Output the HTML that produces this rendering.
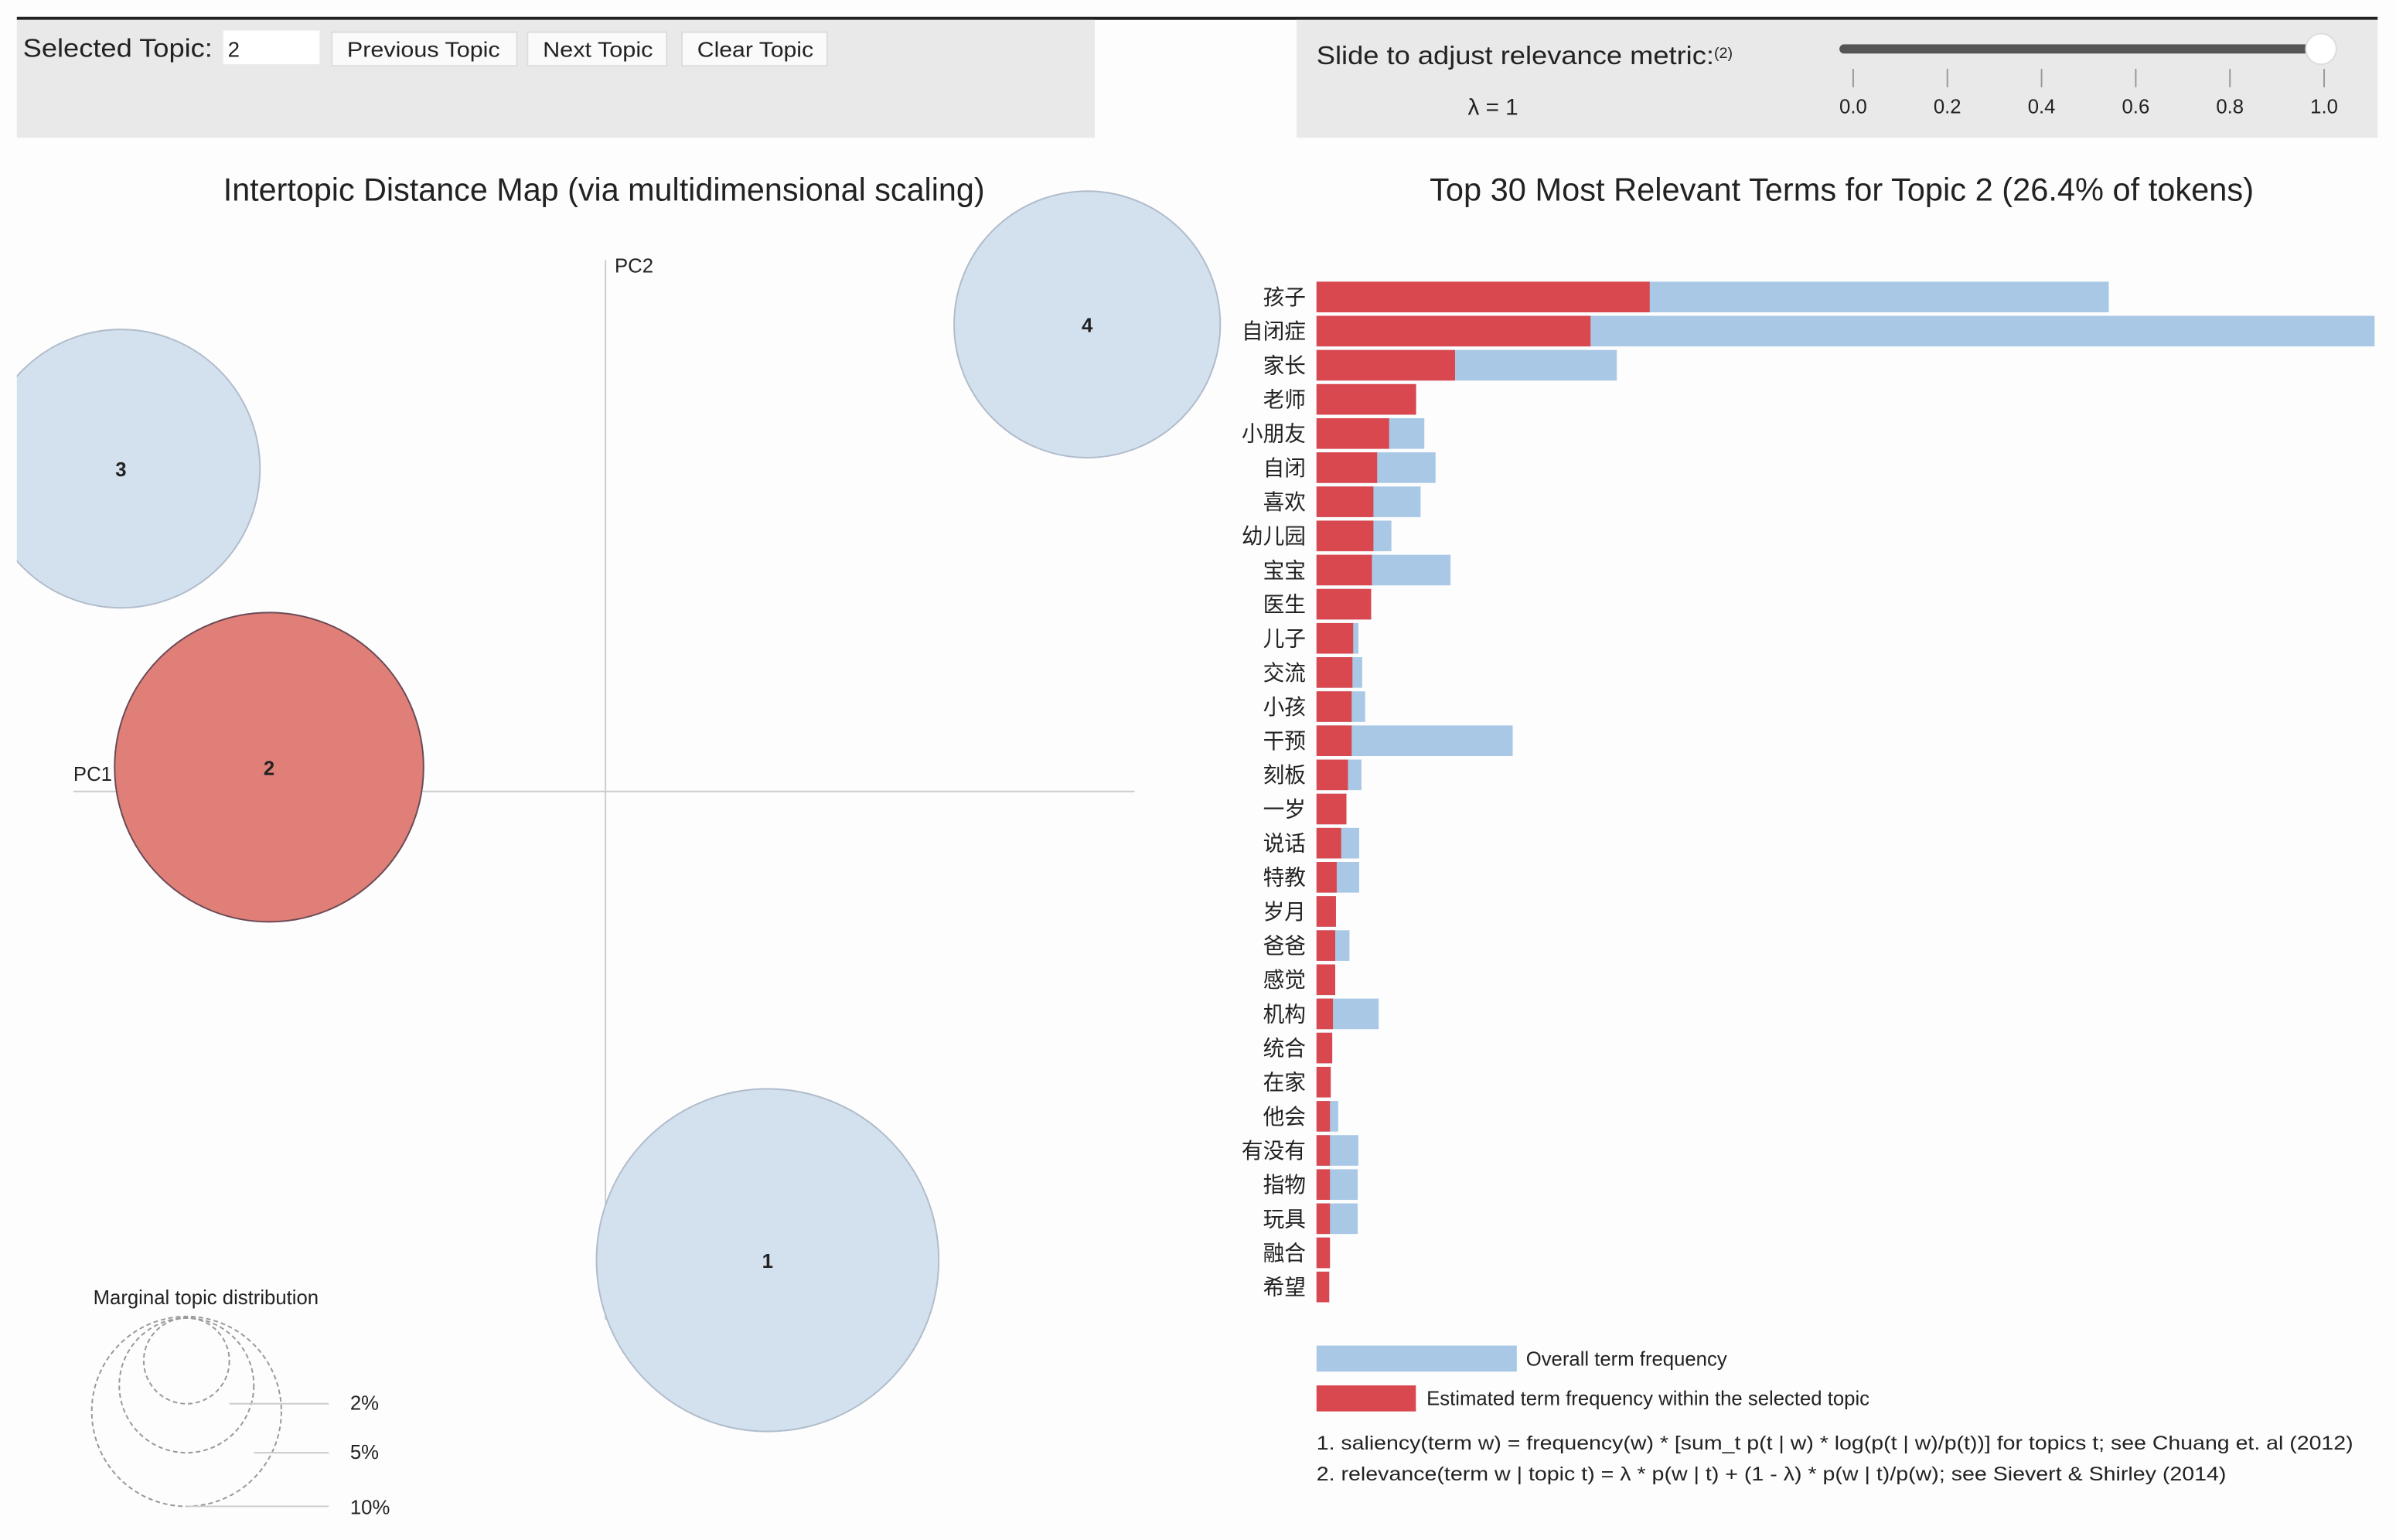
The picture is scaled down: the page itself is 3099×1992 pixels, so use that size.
<!DOCTYPE html>
<html><head><meta charset="utf-8"><style>
html,body{margin:0;padding:0;background:#fff}
svg{display:block}
text{font-family:"Liberation Sans","Noto Sans CJK SC",sans-serif;fill:#222}
</style></head><body>
<svg id="chart" width="3099" height="1992" viewBox="0 0 1567 1006" preserveAspectRatio="none" xmlns="http://www.w3.org/2000/svg">
<rect x="0" y="0" width="1567" height="1006" fill="#fdfdfd"/>
<line x1="11" y1="12" x2="1555" y2="12" stroke="#222" stroke-width="2"/>
<rect x="11" y="13" width="705" height="77" fill="#e9e9e9"/>
<rect x="848" y="13" width="707" height="77" fill="#e9e9e9"/>
<text x="15" y="37" font-size="17" textLength="124" lengthAdjust="spacingAndGlyphs">Selected Topic:</text>
<rect x="146" y="20" width="63" height="22" fill="#fff"/>
<text x="149" y="37" font-size="14">2</text>
<rect x="217" y="21" width="121" height="22" fill="#fafafa" stroke="#ddd"/>
<text x="227" y="37" font-size="14" textLength="100" lengthAdjust="spacingAndGlyphs" fill="#444">Previous Topic</text>
<rect x="345" y="21" width="91" height="22" fill="#fafafa" stroke="#ddd"/>
<text x="355" y="37" font-size="14" textLength="72" lengthAdjust="spacingAndGlyphs" fill="#444">Next Topic</text>
<rect x="446" y="21" width="95" height="22" fill="#fafafa" stroke="#ddd"/>
<text x="456" y="37" font-size="14" textLength="76" lengthAdjust="spacingAndGlyphs" fill="#444">Clear Topic</text>
<text x="861" y="42" font-size="17"><tspan textLength="260" lengthAdjust="spacingAndGlyphs">Slide to adjust relevance metric:</tspan><tspan font-size="10" dy="-4">(2)</tspan></text>
<text x="960" y="75" font-size="15">λ = 1</text>
<rect x="1203" y="29" width="315" height="6" rx="3" fill="#555"/>
<circle cx="1518" cy="32" r="10" fill="#fff" stroke="#ddd"/>
<g id="sliderTicks"></g>

<text x="146" y="131" font-size="21" textLength="498" lengthAdjust="spacingAndGlyphs">Intertopic Distance Map (via multidimensional scaling)</text>
<text x="935" y="131" font-size="21" textLength="539" lengthAdjust="spacingAndGlyphs">Top 30 Most Relevant Terms for Topic 2 (26.4% of tokens)</text>

<line x1="396" y1="170" x2="396" y2="862" stroke="#ccc"/>
<line x1="48" y1="517" x2="742" y2="517" stroke="#ccc"/>
<text x="402" y="178" font-size="13" fill="#888">PC2</text>
<text x="48" y="510" font-size="13" fill="#888">PC1</text>
<defs><clipPath id="mapclip"><rect x="11" y="95" width="820" height="900"/></clipPath></defs>
<g id="topics" clip-path="url(#mapclip)"></g>

<text x="61" y="852" font-size="13">Marginal topic distribution</text>
<g fill="none" stroke="#999" stroke-dasharray="3,2">
<circle cx="122" cy="922" r="62"/>
<circle cx="122" cy="905" r="44"/>
<circle cx="122" cy="889" r="28"/>
</g>
<line x1="150" y1="917" x2="215" y2="917" stroke="#ccc"/>
<line x1="166" y1="949" x2="215" y2="949" stroke="#ccc"/>
<line x1="122" y1="984" x2="215" y2="984" stroke="#ccc"/>
<text x="229" y="921" font-size="13">2%</text>
<text x="229" y="953" font-size="13">5%</text>
<text x="229" y="989" font-size="13">10%</text>

<g id="bars"></g>

<rect x="861" y="879" width="131" height="17" fill="#a9c8e6"/>
<text x="998" y="892" font-size="13">Overall term frequency</text>
<rect x="861" y="905" width="65" height="17" fill="#d9474f"/>
<text x="933" y="918" font-size="13">Estimated term frequency within the selected topic</text>
<text x="861" y="947" font-size="12.5" textLength="678" lengthAdjust="spacingAndGlyphs">1. saliency(term w) = frequency(w) * [sum_t p(t | w) * log(p(t | w)/p(t))] for topics t; see Chuang et. al (2012)</text>
<text x="861" y="967" font-size="12.5" textLength="595" lengthAdjust="spacingAndGlyphs">2. relevance(term w | topic t) = λ * p(w | t) + (1 - λ) * p(w | t)/p(w); see Sievert &amp; Shirley (2014)</text>
</svg>
<script>
const terms = ["孩子","自闭症","家长","老师","小朋友","自闭","喜欢","幼儿园","宝宝","医生","儿子","交流","小孩","干预","刻板","一岁","说话","特教","岁月","爸爸","感觉","机构","统合","在家","他会","有没有","指物","玩具","融合","希望"];
const topicFreq = [445,366,185,133,97,81,76,76,74,73,49,48,47,47,42,40,33,27,26,25,25,22,21,19,18,18,18,18,18,17];
const overallFreq = [1058,1413,401,133,144,159,139,100,179,73,56,61,65,262,60,40,57,57,26,44,25,83,21,19,29,56,55,55,18,17];
const sliderTicks = ["0.0","0.2","0.4","0.6","0.8","1.0"];
const topicIds = ["1","2","3","4"];
const topicX = [0.279, -0.579, -0.834, 0.829];
const topicY = [-0.832, 0.043, 0.573, 0.829];
const topicSize = [32.4, 26.4, 21.4, 19.6];

const NS = "http://www.w3.org/2000/svg";
function mk(tag, attrs, parent){const e=document.createElementNS(NS,tag);for(const k in attrs)e.setAttribute(k,attrs[k]);parent.appendChild(e);return e;}

const st = document.getElementById('sliderTicks');
const sx = v => 1212 + v*(1520-1212);
sliderTicks.forEach((t,i)=>{
  const x = sx(parseFloat(t));
  const l = mk('line',{x1:x,y1:45,x2:x,y2:57,stroke:'#999'},st);
  
  
  const tx = mk('text',{x:x,y:74,'font-size':13,'text-anchor':'middle'},st);
  
  
  tx.textContent = t;
});

const tg = document.getElementById('topics');
const mx = v => 396 + v*380;
const my = v => 517 - v*368;
const rs = s => 19.66*Math.sqrt(s);
topicIds.forEach((id,i)=>{
  const sel = id==="2";
  const c = mk('circle',{cx:mx(topicX[i]),cy:my(topicY[i]),r:rs(topicSize[i]),fill:sel?'#e07f78':'#d3e0ee',stroke:sel?'#6a4a55':'#b0bccb','stroke-width':1},tg);
  
  
  const t = mk('text',{x:mx(topicX[i]),y:my(topicY[i])+5,'font-size':13,'font-weight':'bold','text-anchor':'middle',fill:sel?'#8b1a1a':'#1a2540'},tg);
  
  
  t.textContent = id;
});

const bg = document.getElementById('bars');
const bx0 = 861, bscale = 692/1413;
const by = i => 194 + i*22.3;
terms.forEach((term,i)=>{
  const b = mk('rect',{x:bx0,y:by(i)-10,width:overallFreq[i]*bscale,height:20,fill:'#a9c8e6'},bg);
  
  
  const r = mk('rect',{x:bx0,y:by(i)-10,width:topicFreq[i]*bscale,height:20,fill:'#d9474f'},bg);
  
  
  const t = mk('text',{x:854,y:by(i)+5,'font-size':14,'text-anchor':'end'},bg);
  
  
  t.textContent = term;
});
</script>
</body></html>
